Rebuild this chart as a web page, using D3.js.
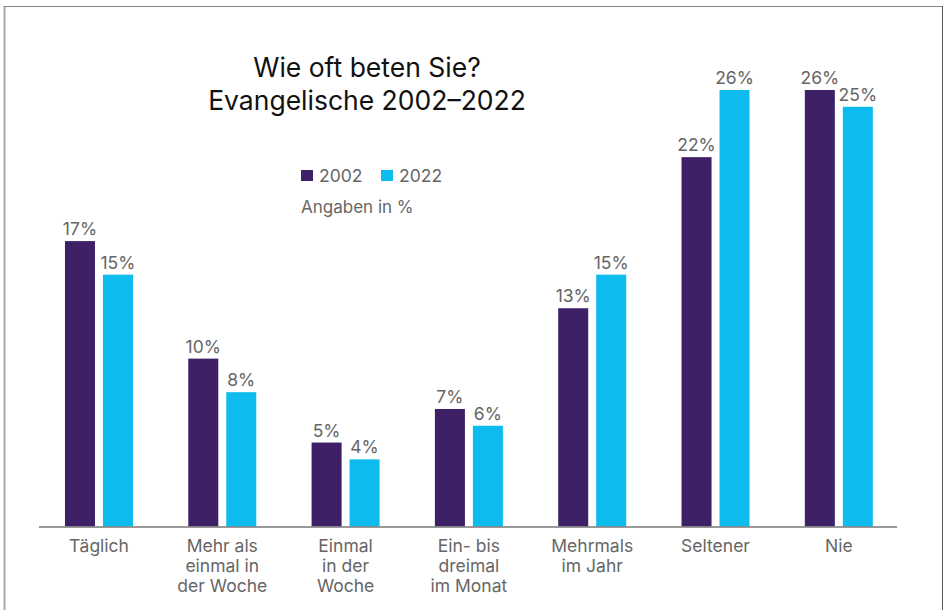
<!DOCTYPE html>
<html>
<head>
<meta charset="utf-8">
<script src="https://cdn.jsdelivr.net/npm/d3@7"></script>
<style>
  body { margin: 0; background: #fff; }
  svg text { font-family: Inter, "Noto Sans", sans-serif; }
</style>
</head>
<body>
<svg id="chart" width="945" height="610"></svg>
<script>
// categories and values (percent)
const categories = [
    ["Täglich"],
    ["Mehr als", "einmal in", "der Woche"],
    ["Einmal", "in der", "Woche"],
    ["Ein- bis", "dreimal", "im Monat"],
    ["Mehrmals", "im Jahr"],
    ["Seltener"],
    ["Nie"]
];
const values2002 = [17, 10, 5, 7, 13, 22, 26];
const values2022 = [15, 8, 4, 6, 15, 26, 25];
const seriesNames = ["2002", "2022"];
const colors = ["#3d2066", "#0dbbee"];

const svg = d3.select("#chart");

// frame
svg.append("line").attr("x1", 4.5).attr("x2", 4.5).attr("y1", 6).attr("y2", 610)
    .attr("stroke", "#aaa").attr("stroke-width", 2);
svg.append("line").attr("x1", 4).attr("x2", 942).attr("y1", 6.5).attr("y2", 6.5)
    .attr("stroke", "#888").attr("stroke-width", 1);
svg.append("line").attr("x1", 942.5).attr("x2", 942.5).attr("y1", 6).attr("y2", 610)
    .attr("stroke", "#555").attr("stroke-width", 1);

const baseY = 526.5;
const x0 = d3.scaleBand()
    .domain(d3.range(categories.length))
    .range([40.3, 897.5])
    .paddingInner(0.4485)
    .paddingOuter(0.2);
const x1 = d3.scaleBand()
    .domain([0, 1])
    .range([0, x0.bandwidth()])
    .paddingInner(0.21);
const y = d3.scaleLinear().domain([0, 26]).range([baseY, 90]);

const data = categories.map((c, i) => ({ i: i, vals: [values2002[i], values2022[i]] }));

const groups = svg.append("g").selectAll("g")
    .data(data)
    .enter()
    .append("g")
    .attr("transform", d => `translate(${x0(d.i)},0)`);

groups.selectAll("rect")
    .data(d => d.vals.map((v, k) => ({ k: k, v: v })))
    .enter()
    .append("rect")
    .attr("x", d => x1(d.k))
    .attr("y", d => y(d.v))
    .attr("width", x1.bandwidth())
    .attr("height", d => baseY - y(d.v))
    .attr("fill", d => colors[d.k]);

groups.selectAll("text.val")
    .data(d => d.vals.map((v, k) => ({ k: k, v: v })))
    .enter()
    .append("text")
    .attr("class", "val")
    .attr("x", d => x1(d.k) + x1.bandwidth() / 2)
    .attr("y", d => y(d.v) - 6)
    .attr("text-anchor", "middle")
    .attr("font-size", 17.5)
    .attr("fill", "#666")
    .text(d => d.v + "%");

// axis line
svg.append("line")
    .attr("x1", 39).attr("x2", 897)
    .attr("y1", baseY + 0.5).attr("y2", baseY + 0.5)
    .attr("stroke", "#777").attr("stroke-width", 1.5);

// category labels
const xl = svg.append("g").selectAll("text")
    .data(categories)
    .enter()
    .append("text")
    .attr("x", (d, i) => x0(i) + x0.bandwidth() / 2)
    .attr("y", 551.5)
    .attr("text-anchor", "middle")
    .attr("font-size", 17.5)
    .attr("fill", "#666");
xl.selectAll("tspan")
    .data(d => d)
    .enter()
    .append("tspan")
    .attr("x", function () { return d3.select(this.parentNode).attr("x"); })
    .attr("dy", (d, j) => j === 0 ? 0 : 20)
    .text(d => d);

// title
const title = svg.append("text")
    .attr("x", 367)
    .attr("text-anchor", "middle")
    .attr("font-size", 26.5)
    .attr("fill", "#111");
title.append("tspan").attr("x", 367).attr("y", 77).text("Wie oft beten Sie?");
title.append("tspan").attr("x", 367).attr("y", 110).text("Evangelische 2002–2022");

// legend
const legendX = [301, 381];
const legend = svg.append("g").selectAll("g")
    .data(seriesNames)
    .enter()
    .append("g")
    .attr("transform", (d, i) => `translate(${legendX[i]},170)`);
legend.append("rect")
    .attr("width", 12).attr("height", 11)
    .attr("fill", (d, i) => colors[i]);
legend.append("text")
    .attr("x", 18).attr("y", 11.5)
    .attr("font-size", 17.5)
    .attr("fill", "#666")
    .text(d => d);

svg.append("text")
    .attr("x", 301).attr("y", 213)
    .attr("font-size", 17)
    .attr("fill", "#666")
    .text("Angaben in %");
</script>
</body>
</html>
